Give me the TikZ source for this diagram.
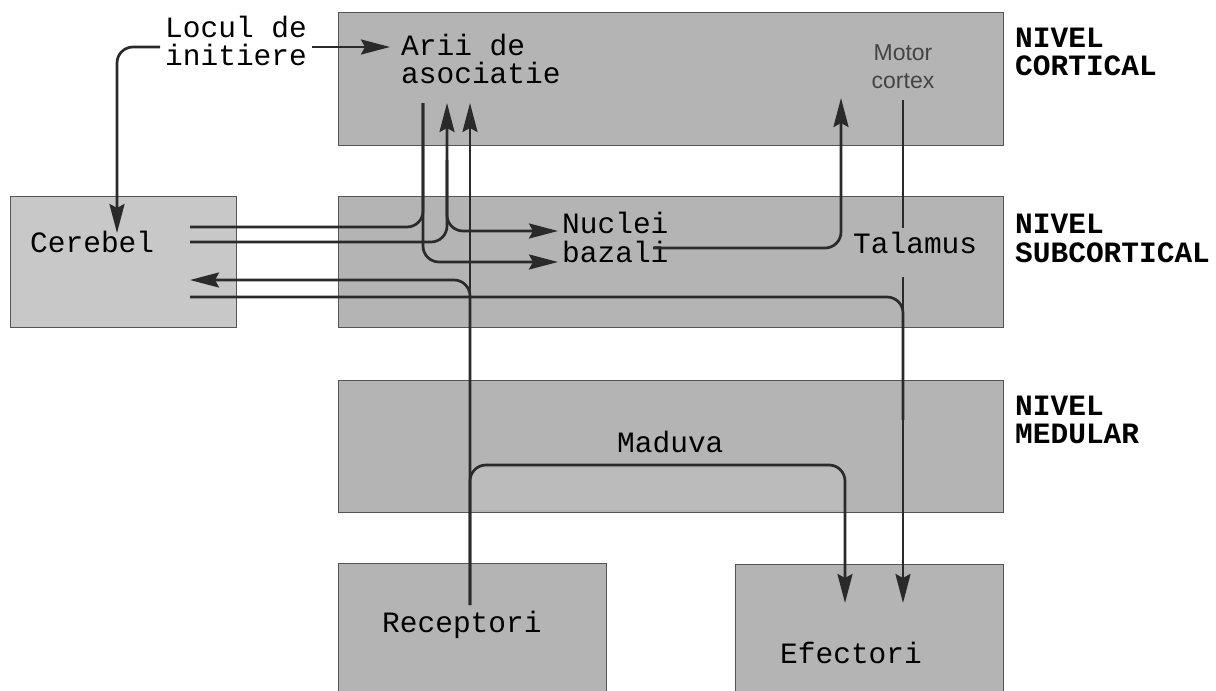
\documentclass[tikz,border=0pt]{standalone}
\usepackage{fontspec}
\newfontfamily\mono{Liberation Mono}
\newfontfamily\sansf{Liberation Sans}
\usetikzlibrary{arrows.meta}
\definecolor{boxgray}{HTML}{B4B4B4}
\definecolor{cergray}{HTML}{C8C8C8}
\definecolor{patch}{HTML}{BBBBBB}
\definecolor{edgec}{HTML}{555555}
\definecolor{ink}{HTML}{2A2A2A}
\definecolor{motorc}{HTML}{444444}
\begin{document}
\begin{tikzpicture}[x=1pt,y=-1pt,
  region/.style={draw=edgec,line width=1.3pt,fill=boxgray,inner sep=0pt,anchor=north west},
  lbl/.style={font=\mono\fontsize{29.5}{28}\selectfont,inner sep=0pt,anchor=base west,text=black},
  lvl/.style={font=\mono\bfseries\fontsize{29.5}{28}\selectfont,inner sep=0pt,anchor=base west,text=black},
  mot/.style={font=\sansf\fontsize{23}{26}\selectfont,inner sep=0pt,anchor=base,text=motorc},
  conn/.style={draw=ink,line width=2.7pt,rounded corners=16pt},
  tip/.style={-{Stealth[length=29pt,width=15pt,inset=4pt]}}
]
\useasboundingbox[fill=white] (0,0) rectangle (1216,691);

% regions
\node[region,minimum width=665pt,minimum height=133pt] (cortical) at (338,12) {};
\node[region,minimum width=665pt,minimum height=131pt] (subcort) at (338,196) {};
\node[region,minimum width=665pt,minimum height=132pt] (medular) at (338,380) {};
\node[region,fill=cergray,minimum width=226pt,minimum height=131pt] (cerebelbox) at (10,196) {};
\node[region,minimum width=268pt,minimum height=140pt] (recbox) at (338,563) {};
\node[region,minimum width=268pt,minimum height=140pt] (efbox) at (735,564) {};
\fill[patch] (472,468) rectangle (843,510);

% labels
\node[lbl] (locul) at (165,37) {Locul de};
\node[lbl] (locul2) at (165,65) {initiere};
\node[lbl] (arii) at (401,55) {Arii de};
\node[lbl] (arii2) at (401,83) {asociatie};
\node[mot] (motor) at (903,60) {Motor};
\node[mot] (motor2) at (903,88) {cortex};
\node[lbl] (cerebel) at (30,252) {Cerebel};
\node[lbl] (nuclei) at (562,233) {Nuclei};
\node[lbl] (nuclei2) at (562,262) {bazali};
\node[lbl] (talamus) at (853,253) {Talamus};
\node[lbl] (maduva) at (617,452) {Maduva};
\node[lbl] (receptori) at (382,632) {Receptori};
\node[lbl] (efectori) at (780,663) {Efectori};
\node[lvl] (nc1) at (1015,47) {NIVEL};
\node[lvl] (nc2) at (1015,75) {CORTICAL};
\node[lvl] (ns1) at (1015,233) {NIVEL};
\node[lvl] (ns2) at (1015,262) {SUBCORTICAL};
\node[lvl] (nm1) at (1015,415) {NIVEL};
\node[lvl] (nm2) at (1015,443) {MEDULAR};

% connector end points
\coordinate (locR) at (312,47);
\coordinate (ariiL) at (390,47);
\coordinate (locL) at (160,47);
\coordinate (cerTop) at (117,233);
\coordinate (a1) at (423,103);
\coordinate (a2) at (447,103);
\coordinate (a2m) at (447,160);
\coordinate (a3) at (470,103);
\coordinate (nucIn1) at (558,231);
\coordinate (nucIn2) at (558,262);
\coordinate (cer1) at (190,227);
\coordinate (cer2) at (190,242);
\coordinate (cer3) at (190,280);
\coordinate (cer4) at (190,297);
\coordinate (recTop) at (470,605);
\coordinate (spR) at (845,465);
\coordinate (efIn1) at (845,603);
\coordinate (efIn2) at (903,603);
\coordinate (efMid) at (903,420);
\coordinate (nucOut) at (653,248);
\coordinate (motIn) at (841,98);
\coordinate (motOut) at (903,100);
\coordinate (talTop) at (903,228);
\coordinate (talBot) at (903,277);

% connectors
\draw[conn,tip] (locR) -- (ariiL);
\draw[conn,tip] (locL) -| (cerTop);
\draw[conn,tip] (a1) |- (nucIn2);
\draw[conn] (cer1) -| (a1);
\draw[conn,tip] (cer2) -| (a2);
\draw[conn,tip] (a2m) |- (nucIn1);
\draw[conn,tip] (recTop) -- (a3);
\draw[conn,tip] (recTop) |- (cer3);
\draw[conn,tip] (recTop) |- (spR) -- (efIn1);
\draw[conn,tip] (nucOut) -| (motIn);
\draw[conn,line width=2.2pt] (motOut) -- (talTop);
\draw[conn,tip] (talBot) -- (efIn2);
\draw[conn] (cer4) -| (efMid);
\end{tikzpicture}
\end{document}
